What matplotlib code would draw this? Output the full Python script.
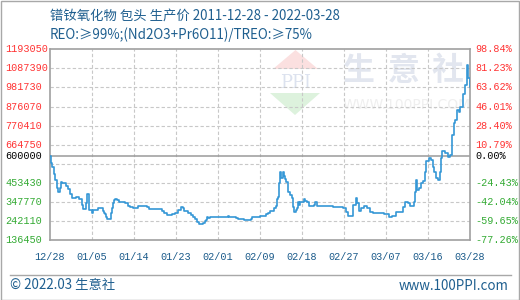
import matplotlib
matplotlib.use("Agg")
import matplotlib.pyplot as plt
import numpy as np
from matplotlib import transforms
from matplotlib.patches import Polygon, Rectangle

plt.rcParams['font.family'] = ['Noto Sans CJK SC', 'DejaVu Sans']

# ---------------- data ----------------
title_line1 = "镨钕氧化物 包头 生产价 2011-12-28 - 2022-03-28"
title_line2 = "REO:≥99%;(Nd2O3+Pr6O11)/TREO:≥75%"
base_price = 600000

# months since 2011-12-28
months = [0, 0.2, 0.6, 1.2, 1.5, 2.0, 2.3, 3.0, 3.3, 3.6, 4.8, 5.3, 5.9, 6.4, 7.6, 8.6, 9.4, 9.8,
          10.5, 10.7, 11.5, 12.3, 12.6, 14.1, 15.5, 15.8, 16.1, 16.5, 16.7, 17.9, 18.2, 18.5, 18.7,
          19.1, 19.6, 20.2, 22.0, 22.8, 23.4, 24.3, 25.8, 28.4, 29.0, 32.8, 33.5, 34.3, 35.7, 36.6,
          37.5, 38.4, 39.0, 39.2, 40.4,
          41.3, 41.9, 42.5, 43.1, 43.6, 44.2, 44.8, 45.4, 45.7, 46.0, 46.3, 46.9, 52.1, 52.4, 54.5,
          55.1, 56.8, 58.9, 59.2, 61.5, 63.3, 63.8, 64.4, 65.6, 66.2, 66.5, 66.8, 67.1, 67.4, 67.7,
          68.2, 68.5, 68.8, 69.1, 69.7, 70.3, 70.9, 71.2, 71.5, 72.0, 72.3, 72.6, 72.9, 73.2, 74.4,
          74.7, 75.3, 75.9, 77.3, 77.6, 78.2, 79.1,
          82.9, 84.9, 85.8, 86.7, 87.3, 88.7, 89.6, 89.9, 90.5, 91.1, 92.0, 92.8, 93.7, 94.6, 97.8,
          99.3, 100.2, 101.3, 103.4, 104.0, 104.8, 105.4, 106.6, 106.9, 107.2, 107.5, 108.1, 108.7,
          109.2, 109.8, 110.1, 111.0, 111.6, 112.2, 112.5, 113.0, 113.6, 114.2, 114.5, 114.8, 115.7,
          116.6, 117.1, 117.7, 118.3, 118.6, 119.2, 119.8, 120.1, 120.9, 121.5, 122.0, 122.2, 122.4,
          123.0]

prices = [600000, 561400, 539300, 500500, 468900, 426200, 400800, 426200, 459500, 450600, 437300,
          417400, 389700, 367500, 373000, 362000, 330400, 306600, 339800, 389700, 302700, 287700,
          302700, 312100, 297100, 287700, 278900, 265600, 251200, 287700, 312100, 339800, 358100,
          363600, 358100, 348700, 339800, 326500, 321000, 312100, 326500, 321000, 306600, 297100,
          287700, 275000, 280500, 284400, 302700, 321000, 312100, 297100, 287700,
          275000, 265600, 254500, 236200, 225100, 223400, 229000, 241700, 247300, 265600, 256700,
          262200, 269400, 265600, 256700, 251200, 245600, 251200, 262200, 269400, 280500, 287700,
          297100, 312100, 324800, 362000, 376400, 450600, 511600, 478300, 511600, 491100, 472800,
          456200, 400800, 385800, 367500, 321000, 293300, 302700, 312100, 348700, 330400, 345300,
          363600, 354200, 345300, 324800, 330400, 345300, 326500, 323200,
          321000, 317600, 312100, 293300, 271100, 330400, 370800, 339800, 297100, 312100, 324800,
          312100, 293300, 284400, 278900, 262200, 271100, 293300, 317600, 348700, 339800, 324800,
          345300, 404100, 468900, 413500, 426200, 454000, 463400, 514900, 574200, 589100, 579700,
          542600, 514900, 478300, 468900, 514900, 592500, 629600, 616900, 598000, 607400, 718300,
          783100, 801400, 856800, 847400, 875100, 943800, 995300, 1096700, 1106100, 1032400, 985900]

x_tick_labels = ["12/28", "01/05", "01/14", "01/23", "02/01", "02/09", "02/18", "02/27",
                 "03/07", "03/16", "03/28"]
y_grid_values = [136450, 242110, 347770, 453430, 559090, 664750, 770410, 876070, 981730,
                 1087390, 1193050]

# ---------------- figure ----------------
W, H = 520, 300
fig = plt.figure(figsize=(W / 100, H / 100), dpi=100)
fig.patch.set_facecolor('white')
fig.patches.append(Rectangle((0.5 / W, 0.5 / H), 1 - 1.5 / W, 1 - 1.5 / H, transform=fig.transFigure,
                             fill=False, edgecolor='#a8a8a8', lw=1.0))

ax = fig.add_axes([50 / W, (H - 240) / H, 420 / W, 190.7 / H])
ax.set_facecolor('white')
x_max = 123.0
ax.set_xlim(0, x_max)
ax.set_ylim(y_grid_values[0], y_grid_values[-1])


def fxy(px, py):
    return ((px - 50) / 420, (240 - py) / 190.7)


# watermark (decoration)
for ch, cx in zip("生意社", [358, 404, 448]):
    ax.text(*fxy(cx, 71), ch, transform=ax.transAxes, ha='center', va='center',
            fontsize=23, fontweight='bold', color='#e2e6ef', zorder=0)
ax.text(*fxy(407, 105), "WWW.100PPI.COM", transform=ax.transAxes, ha='center', va='center',
        fontsize=10, color='#efefef', family='DejaVu Sans', zorder=0)
ax.add_patch(Polygon([fxy(273, 69), fxy(318, 69), fxy(295.5, 50)], closed=True,
                     transform=ax.transAxes, facecolor='#fbe0e0', edgecolor='none', zorder=0))
ax.add_patch(Polygon([fxy(270, 93), fxy(320, 93), fxy(295, 115)], closed=True,
                     transform=ax.transAxes, facecolor='#ddf2dd', edgecolor='none', zorder=0))
ax.text(*fxy(295.5, 82.5), "PPI", transform=ax.transAxes, ha='center', va='center',
        fontsize=13, color='#dce2ef', family='DejaVu Serif', zorder=0)

# grid
for v in y_grid_values[1:-1]:
    ax.axhline(v, color='#c8c8c8', lw=0.8, ls=(0, (3, 2)), zorder=1)
x_ticks = np.linspace(0, x_max, len(x_tick_labels))
for xv in x_ticks[1:-1]:
    ax.axvline(xv, color='#c8c8c8', lw=0.8, ls=(0, (3, 2)), zorder=1)
ax.axhline(base_price, color='#9a9a9a', lw=1.1, zorder=2)

ax.plot(months, prices, drawstyle='steps-post', color='#3597d6', lw=1.2, zorder=3)

for s in ax.spines.values():
    s.set_color('#a0a0a0')
    s.set_linewidth(1.2)
ax.set_xticks([])
ax.set_yticks([])

mono = 'Liberation Mono'
red, green = '#ff3333', '#33aa33'
left_tr = transforms.blended_transform_factory(fig.transFigure, ax.transData)
labels = [v for v in y_grid_values if v != 559090]
for v in labels:
    c = red if v > base_price else green
    ax.text(5 / W, v, f"{v}", transform=left_tr, ha='left', va='center', fontsize=7.3,
            family=mono, color=c, clip_on=False)
    pct = (v - base_price) / base_price * 100
    ax.text(475 / W, v, f"{pct:.2f}%", transform=left_tr, ha='left', va='center', fontsize=7.3,
            family=mono, color=c, clip_on=False)
ax.text(5 / W, base_price, f"{base_price}", transform=left_tr, ha='left', va='center',
        fontsize=7.3, family=mono, color='black', clip_on=False)
ax.text(475 / W, base_price, "0.00%", transform=left_tr, ha='left', va='center',
        fontsize=7.3, family=mono, color='black', clip_on=False)

bot_tr = transforms.blended_transform_factory(ax.transData, fig.transFigure)
for xv, lab in zip(x_ticks, x_tick_labels):
    ax.text(xv, 1 - 256.5 / H, lab, transform=bot_tr, ha='center', va='center', fontsize=7.3,
            family=mono, color='#1a5a8a', clip_on=False)

# titles
tcol = '#1f5f8f'
fig.text(50 / W, 1 - 15.5 / H, title_line1, ha='left', va='center', fontsize=9.6, color=tcol)
fig.text(50 / W, 1 - 34.5 / H, title_line2, ha='left', va='center', fontsize=9.6, color=tcol)

# footer
fig.add_artist(plt.Line2D([10 / W, 511 / W], [1 - 275 / H, 1 - 275 / H], transform=fig.transFigure,
                          color='#a8a8a8', lw=1.0))
fig.text(10 / W, 1 - 285.5 / H, "© 2022.03 生意社", ha='left', va='center', fontsize=9.6, color=tcol)
fig.text(509 / W, 1 - 285.5 / H, "www.100PPI.com", ha='right', va='center', fontsize=9.6, color=tcol)

fig.savefig("out.png", dpi=100)
